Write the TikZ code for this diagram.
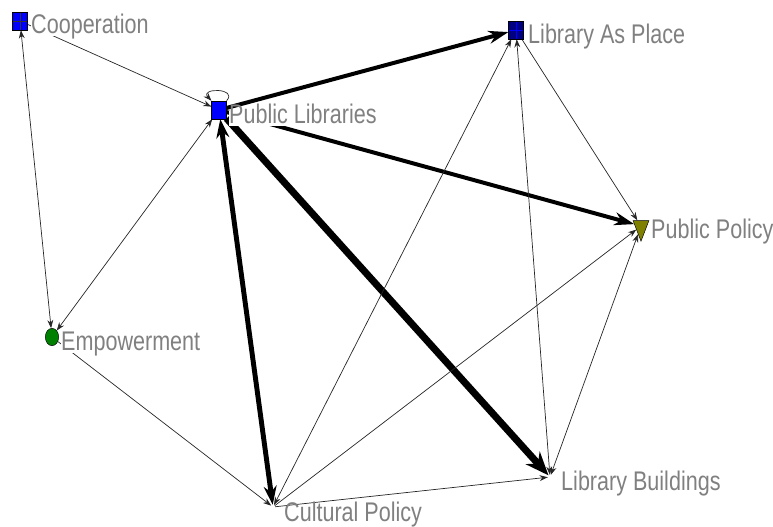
\documentclass[tikz,border=0pt]{standalone}
\usepackage{fontspec}
\newfontfamily\labelfont[FakeStretch=0.8]{Liberation Sans}
\usepackage{tikz}
\usetikzlibrary{arrows.meta,shapes.geometric,backgrounds}
\definecolor{actorblue}{RGB}{0,0,255}
\definecolor{actornavy}{RGB}{0,0,128}
\definecolor{actorgreen}{RGB}{0,128,0}
\definecolor{actorolive}{RGB}{128,128,0}
\definecolor{labelgray}{RGB}{128,128,128}
\tikzset
{
    boxnode/.style       = {rectangle, draw=black, fill=#1, inner sep=0pt, minimum width=0.44cm, minimum height=0.54cm},
    gridnode/.style 2 args = {boxnode=#1, path picture={\draw[#2] (path picture bounding box.north) -- (path picture bounding box.south) (path picture bounding box.west) -- (path picture bounding box.east);}},
    roundnode/.style     = {ellipse, draw=black, fill=actorgreen, inner sep=0pt, minimum width=0.4cm, minimum height=0.52cm},
    trinode/.style       = {isosceles triangle, isosceles triangle apex angle=42, shape border rotate=-90, draw=black, fill=actorolive, inner sep=0pt, minimum height=0.62cm},
    hubnode/.style       = {circle, inner sep=0pt, minimum size=0.12cm},
    lbl/.style           = {font=\labelfont\fontsize{23pt}{27pt}\selectfont, text=labelgray, fill=white, inner sep=0pt, anchor=base west, text height=1.0em, text depth=0.25em},
    link/.style          = {draw=black!85, line width=0.6pt, -{Stealth[length=7pt,width=5pt]}},
    linkboth/.style      = {draw=black!85, line width=0.6pt, {Stealth[length=7pt,width=5pt]}-{Stealth[length=7pt,width=5pt]}},
    heavy/.style         = {line width=3.4pt, -{Stealth[length=17pt,width=11pt]}},
    heavyboth/.style     = {line width=4.2pt, {Stealth[length=16pt,width=11pt]}-{Stealth[length=16pt,width=11pt]}},
    heaviest/.style      = {line width=6pt, -{Stealth[length=20pt,width=16pt]}}
}
\begin{document}
\begin{tikzpicture}[x=0.03cm, y=-0.03cm]
    \useasboundingbox (0,0) rectangle (773,527);

    % actors
    \node [gridnode={actorblue}{black!80}] (coop) at (20,21) {};
    \node [boxnode=actorblue] (publib) at (219,110) {};
    \node [gridnode={actornavy}{actorblue}] (lap) at (516,30) {};
    \node [trinode] (pp) at (641,226) {};
    \node [roundnode] (emp) at (52,337) {};
    \node [hubnode] (cult) at (273,507) {};
    \node [hubnode] (lb) at (550,477) {};

    % labels
    \node [lbl] (cooplbl) at (31,33) {Cooperation};
    \node [lbl] (publiblbl) at (229,123) {Public Libraries};
    \node [lbl] (laplbl) at (528,43) {Library As Place};
    \node [lbl] (pplbl) at (651,238) {Public Policy};
    \node [lbl] (emplbl) at (61,350) {Empowerment};
    \node [lbl] (cultlbl) at (284,521) {Cultural Policy};
    \node [lbl] (lblbl) at (561,490) {Library Buildings};

    % ties
    \begin{scope}[on background layer]
        \draw [link] (coop) -- (publib);
        \draw [linkboth] (coop) -- (emp);
        \draw [linkboth] (emp) -- (publib);
        \draw [link] (publib.north east) .. controls +(12,-13) and +(-12,-13) .. (publib.north west);
        \draw [heavy] (publib) -- (lap);
        \draw [heavy] (publib) -- (pp);
        \draw [heavyboth] (publib) -- (cult);
        \draw [heaviest] (publib) -- (lb);
        \draw [link] (emp) -- (cult);
        \draw [linkboth] (cult) -- (lap);
        \draw [link] (cult) -- (pp);
        \draw [link] (cult) -- (lb);
        \draw [link] (lap) -- (pp);
        \draw [linkboth] (lap) -- (lb);
        \draw [linkboth] (pp) -- (lb);
    \end{scope}
\end{tikzpicture}
\end{document}
